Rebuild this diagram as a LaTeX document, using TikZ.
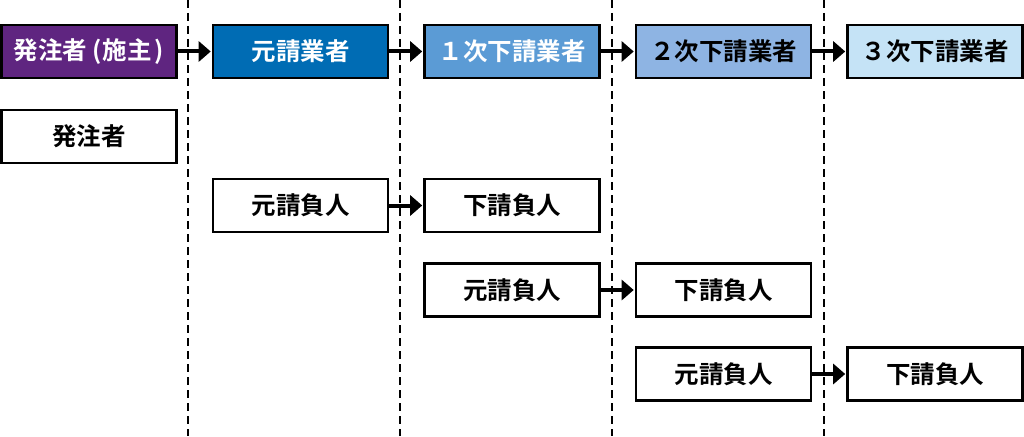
\documentclass[tikz,border=0pt]{standalone}
\usepackage{fontspec}
\setmainfont{Noto Sans CJK JP}[BoldFont={Noto Sans CJK JP Bold}]
\usetikzlibrary{arrows.meta}
\definecolor{cpurple}{RGB}{95,37,128}
\definecolor{cblue}{RGB}{0,108,180}
\definecolor{cone}{RGB}{91,155,213}
\definecolor{ctwo}{RGB}{142,180,227}
\definecolor{cthree}{RGB}{197,227,246}
\tikzset{
  box/.style={draw=black, line width=2.6pt, rectangle, minimum width=175pt, minimum height=53pt,
    inner sep=0pt, font=\fontsize{24.5pt}{26pt}\selectfont\bfseries, fill=white, text=black},
  whitetext/.style={text=white},
  divider/.style={line width=1.2pt, dash pattern=on 8pt off 5pt},
  flow/.style={line width=4pt, -{Triangle[length=12pt,width=20pt]}, shorten >=1pt},
}
\begin{document}
\begin{tikzpicture}[x=1pt,y=-1pt]
\useasboundingbox (0,0) rectangle (1024,436);
% dividers
\foreach \i/\xx in {1/188,2/400,3/612,4/824}{
  \coordinate (dtop\i) at (\xx,0);
  \coordinate (dbot\i) at (\xx,436);
  \draw[divider] (dtop\i) -- (dbot\i);
}
% top row
\node[box, fill=cpurple, whitetext] (h0) at (89,51.5) {発注者\hspace{5pt}(\hspace{1pt}施主\hspace{3pt})};
\node[box, fill=cblue, whitetext] (h1) at (300.5,51.5) {元請業者};
\node[box, fill=cone, whitetext] (h2) at (512,51.5) {１次下請業者};
\node[box, fill=ctwo] (h3) at (723.5,51.5) {２次下請業者};
\node[box, fill=cthree] (h4) at (935,51.5) {３次下請業者};
% row 1
\node[box] (r1a) at (89,136.5) {発注者};
% row 2
\node[box] (r2a) at (300.5,205.5) {元請負人};
\node[box] (r2b) at (512,205.5) {下請負人};
% row 3
\node[box] (r3a) at (512,290) {元請負人};
\node[box] (r3b) at (723.5,290) {下請負人};
% row 4
\node[box] (r4a) at (723.5,374) {元請負人};
\node[box] (r4b) at (935,374) {下請負人};
% arrows
\draw[flow] (h0) -- (h1);
\draw[flow] (h1) -- (h2);
\draw[flow] (h2) -- (h3);
\draw[flow] (h3) -- (h4);
\draw[flow] (r2a) -- (r2b);
\draw[flow] (r3a) -- (r3b);
\draw[flow] (r4a) -- (r4b);
\end{tikzpicture}
\end{document}
